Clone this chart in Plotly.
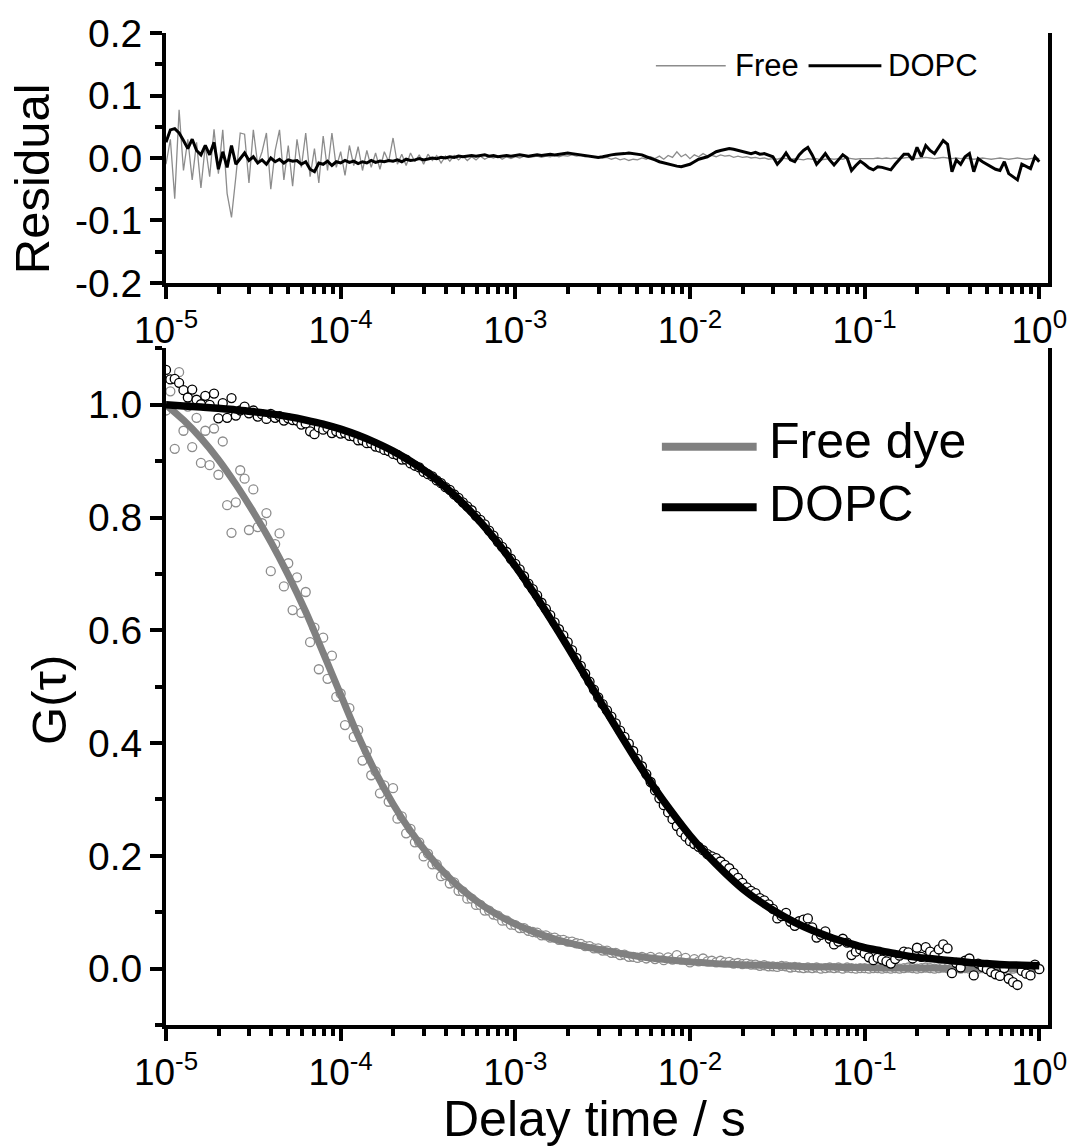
import plotly.graph_objects as go

# ---------------- data ----------------
# delay times are stored as log10(tau / s)
fit_log_tau = [-5.0, -4.9, -4.8, -4.7, -4.6, -4.5, -4.4, -4.3, -4.2, -4.1,
               -4.0, -3.9, -3.8, -3.7, -3.6, -3.5, -3.4, -3.3, -3.2, -3.1,
               -3.0, -2.9, -2.8, -2.7, -2.6, -2.5, -2.4, -2.3, -2.2, -2.1,
               -2.0, -1.9, -1.8, -1.7, -1.6, -1.5, -1.4, -1.3, -1.2, -1.1,
               -1.0, -0.9, -0.8, -0.7, -0.6, -0.5, -0.4, -0.3, -0.2, -0.1, 0.0]

fit_free_dye = [1.000, 0.973, 0.941, 0.903, 0.859, 0.810, 0.757, 0.698, 0.633, 0.560,
                0.486, 0.413, 0.348, 0.292, 0.244, 0.203, 0.168, 0.139, 0.115, 0.095,
                0.079, 0.066, 0.055, 0.046, 0.039, 0.033, 0.027, 0.022, 0.018, 0.015,
                0.012, 0.010, 0.008, 0.007, 0.006, 0.005, 0.004, 0.003, 0.003, 0.002,
                0.002, 0.001, 0.001, 0.001, 0.001, 0.000, 0.000, 0.000, 0.000, 0.000, 0.000]

fit_dopc = [1.000, 0.998, 0.996, 0.994, 0.991, 0.988, 0.984, 0.979, 0.973, 0.966,
            0.957, 0.946, 0.933, 0.918, 0.900, 0.879, 0.854, 0.825, 0.792, 0.755,
            0.714, 0.669, 0.621, 0.571, 0.519, 0.467, 0.416, 0.366, 0.319, 0.276,
            0.236, 0.201, 0.170, 0.142, 0.119, 0.099, 0.082, 0.068, 0.056, 0.046,
            0.037, 0.031, 0.025, 0.020, 0.017, 0.014, 0.011, 0.009, 0.007, 0.006, 0.005]

data_log_tau = [
    -5.000, -4.975, -4.950, -4.925, -4.900, -4.875, -4.850, -4.825, -4.800, -4.775,
    -4.750, -4.725, -4.700, -4.675, -4.650, -4.625, -4.600, -4.575, -4.550, -4.525,
    -4.500, -4.475, -4.450, -4.425, -4.400, -4.375, -4.350, -4.325, -4.300, -4.275,
    -4.250, -4.225, -4.200, -4.175, -4.150, -4.125, -4.100, -4.075, -4.050, -4.025,
    -4.000, -3.975, -3.950, -3.925, -3.900, -3.875, -3.850, -3.825, -3.800, -3.775,
    -3.750, -3.725, -3.700, -3.675, -3.650, -3.625, -3.600, -3.575, -3.550, -3.525,
    -3.500, -3.475, -3.450, -3.425, -3.400, -3.375, -3.350, -3.325, -3.300, -3.275,
    -3.250, -3.225, -3.200, -3.175, -3.150, -3.125, -3.100, -3.075, -3.050, -3.025,
    -3.000, -2.975, -2.950, -2.925, -2.900, -2.875, -2.850, -2.825, -2.800, -2.775,
    -2.750, -2.725, -2.700, -2.675, -2.650, -2.625, -2.600, -2.575, -2.550, -2.525,
    -2.500, -2.475, -2.450, -2.425, -2.400, -2.375, -2.350, -2.325, -2.300, -2.275,
    -2.250, -2.225, -2.200, -2.175, -2.150, -2.125, -2.100, -2.075, -2.050, -2.025,
    -2.000, -1.975, -1.950, -1.925, -1.900, -1.875, -1.850, -1.825, -1.800, -1.775,
    -1.750, -1.725, -1.700, -1.675, -1.650, -1.625, -1.600, -1.575, -1.550, -1.525,
    -1.500, -1.475, -1.450, -1.425, -1.400, -1.375, -1.350, -1.325, -1.300, -1.275,
    -1.250, -1.225, -1.200, -1.175, -1.150, -1.125, -1.100, -1.075, -1.050, -1.025,
    -1.000, -0.975, -0.950, -0.925, -0.900, -0.875, -0.850, -0.825, -0.800, -0.775,
    -0.750, -0.725, -0.700, -0.675, -0.650, -0.625, -0.600, -0.575, -0.550, -0.525,
    -0.500, -0.475, -0.450, -0.425, -0.400, -0.375, -0.350, -0.325, -0.300, -0.275,
    -0.250, -0.225, -0.200, -0.175, -0.150, -0.125, -0.100, -0.075, -0.050, -0.025,
    0.000]

data_free_dye = [
    0.990, 1.024, 0.922, 1.058, 0.954, 0.997, 0.925, 0.977, 0.897, 0.954,
    0.893, 0.958, 0.876, 0.935, 0.822, 0.773, 0.827, 0.884, 0.869, 0.778,
    0.850, 0.783, 0.790, 0.808, 0.705, 0.753, 0.772, 0.678, 0.719, 0.636,
    0.694, 0.631, 0.668, 0.579, 0.605, 0.531, 0.587, 0.514, 0.555, 0.482,
    0.488, 0.432, 0.462, 0.411, 0.423, 0.369, 0.386, 0.343, 0.350, 0.311,
    0.325, 0.296, 0.320, 0.266, 0.270, 0.240, 0.248, 0.224, 0.224, 0.199,
    0.204, 0.185, 0.185, 0.164, 0.166, 0.151, 0.153, 0.138, 0.137, 0.124,
    0.124, 0.113, 0.113, 0.103, 0.103, 0.096, 0.094, 0.085, 0.085, 0.078,
    0.077, 0.072, 0.072, 0.067, 0.065, 0.064, 0.059, 0.059, 0.055, 0.055,
    0.051, 0.051, 0.048, 0.048, 0.045, 0.044, 0.040, 0.040, 0.036, 0.036,
    0.032, 0.032, 0.028, 0.028, 0.024, 0.025, 0.021, 0.021, 0.019, 0.021,
    0.018, 0.021, 0.017, 0.020, 0.015, 0.020, 0.016, 0.024, 0.016, 0.019,
    0.011, 0.017, 0.013, 0.018, 0.013, 0.014, 0.011, 0.014, 0.011, 0.012,
    0.009, 0.010, 0.008, 0.009, 0.007, 0.007, 0.005, 0.006, 0.004, 0.004,
    0.003, 0.005, 0.004, 0.002, 0.003, 0.002, 0.001, 0.002, 0.001, 0.002,
    0.000, 0.001, 0.002, 0.001, 0.002, 0.000, 0.002, 0.001, 0.000, 0.001,
    0.001, 0.000, 0.001, 0.001, 0.000, 0.001, 0.000, 0.001, 0.000, 0.001,
    0.002, 0.001, 0.000, 0.001, 0.002, 0.001, 0.000, 0.001, 0.002, 0.001,
    0.000, 0.001, 0.000, 0.001, 0.000, -0.001, 0.000, 0.001, 0.000, -0.001,
    0.000, 0.001, 0.000, -0.001, 0.000, 0.001, 0.000, -0.001, 0.000, 0.001,
    0.000]

data_dopc = [
    1.062, 1.045, 1.046, 1.039, 1.026, 1.013, 1.027, 1.009, 1.001, 1.016,
    1.000, 1.020, 0.976, 1.003, 0.977, 1.012, 0.981, 0.990, 0.997, 0.985,
    0.990, 0.979, 0.983, 0.975, 0.984, 0.977, 0.980, 0.972, 0.976, 0.973,
    0.972, 0.965, 0.967, 0.953, 0.948, 0.960, 0.956, 0.959, 0.950, 0.953,
    0.949, 0.950, 0.945, 0.944, 0.937, 0.937, 0.932, 0.932, 0.926, 0.924,
    0.920, 0.918, 0.913, 0.911, 0.903, 0.903, 0.896, 0.892, 0.889, 0.881,
    0.877, 0.873, 0.866, 0.861, 0.854, 0.849, 0.841, 0.835, 0.827, 0.820,
    0.813, 0.803, 0.796, 0.788, 0.777, 0.768, 0.757, 0.748, 0.739, 0.727,
    0.718, 0.708, 0.696, 0.683, 0.673, 0.662, 0.649, 0.638, 0.627, 0.614,
    0.602, 0.591, 0.579, 0.565, 0.551, 0.537, 0.523, 0.509, 0.495, 0.481,
    0.469, 0.458, 0.447, 0.435, 0.422, 0.411, 0.399, 0.386, 0.372, 0.359,
    0.345, 0.331, 0.316, 0.302, 0.290, 0.277, 0.265, 0.253, 0.242, 0.234,
    0.226, 0.221, 0.216, 0.210, 0.203, 0.199, 0.196, 0.190, 0.184, 0.178,
    0.170, 0.161, 0.152, 0.144, 0.138, 0.134, 0.125, 0.121, 0.114, 0.106,
    0.089, 0.093, 0.099, 0.083, 0.076, 0.084, 0.087, 0.089, 0.073, 0.055,
    0.060, 0.066, 0.053, 0.043, 0.048, 0.053, 0.046, 0.024, 0.030, 0.034,
    0.027, 0.020, 0.015, 0.019, 0.016, 0.013, 0.009, 0.017, 0.023, 0.030,
    0.029, 0.018, 0.037, 0.021, 0.038, 0.030, 0.024, 0.034, 0.043, 0.036,
    -0.008, 0.010, 0.002, 0.014, 0.018, -0.012, 0.009, 0.003, -0.001, -0.006,
    -0.010, -0.013, 0.001, -0.018, -0.024, -0.029, -0.004, -0.009, -0.012, 0.007,
    -0.001]

resid_free = [
    -0.010, 0.030, -0.065, 0.077, -0.020, 0.030, -0.035, 0.025, -0.048, 0.020,
    -0.030, 0.046, -0.025, 0.045, -0.057, -0.095, -0.030, 0.040, 0.038, -0.040,
    0.045, -0.010, 0.010, 0.040, -0.050, 0.012, 0.045, -0.035, 0.020, -0.045,
    0.030, -0.015, 0.040, -0.030, 0.015, -0.040, 0.035, -0.020, 0.040, -0.015,
    0.010, -0.028, 0.020, -0.012, 0.018, -0.020, 0.012, -0.015, 0.008, -0.018,
    0.010, -0.006, 0.032, -0.010, 0.006, -0.012, 0.008, -0.006, 0.005, -0.010,
    0.006, -0.004, 0.004, -0.008, 0.003, -0.005, 0.004, -0.003, 0.003, -0.004,
    0.002, -0.003, 0.003, -0.002, 0.002, 0.000, 0.003, -0.002, 0.002, -0.001,
    0.002, 0.000, 0.003, 0.001, 0.002, 0.003, 0.001, 0.003, 0.002, 0.004,
    0.002, 0.004, 0.003, 0.005, 0.003, 0.004, 0.002, 0.003, 0.001, 0.002,
    0.000, 0.001, -0.002, 0.000, -0.003, -0.001, -0.004, -0.002, -0.003, 0.000,
    -0.002, 0.002, -0.001, 0.003, -0.002, 0.004, 0.001, 0.010, 0.002, 0.006,
    -0.001, 0.005, 0.002, 0.007, 0.003, 0.004, 0.002, 0.005, 0.003, 0.004,
    0.001, 0.003, 0.001, 0.002, 0.000, 0.001, -0.001, 0.000, -0.002, -0.001,
    -0.002, 0.000, -0.001, -0.002, -0.001, -0.002, -0.003, -0.001, -0.002, -0.001,
    -0.003, -0.002, -0.001, -0.002, -0.001, -0.002, 0.000, -0.001, -0.002, -0.001,
    -0.001, -0.002, -0.001, 0.000, -0.001, 0.000, -0.001, 0.000, -0.001, 0.000,
    0.001, 0.000, -0.001, 0.000, 0.001, 0.000, -0.001, 0.000, 0.001, 0.000,
    -0.001, 0.000, -0.001, 0.000, -0.001, -0.002, -0.001, 0.000, -0.001, -0.002,
    -0.001, 0.000, -0.001, -0.002, -0.001, 0.000, -0.001, -0.002, -0.001, 0.000,
    -0.001]

resid_dopc = [
    0.025, 0.045, 0.047, 0.040, 0.028, 0.015, 0.030, 0.012, 0.005, 0.020,
    0.005, 0.025, -0.018, 0.010, -0.015, 0.020, -0.010, 0.000, 0.008, -0.004,
    0.002, -0.008, -0.003, -0.010, 0.000, -0.006, -0.002, -0.008, -0.003, -0.005,
    -0.004, -0.010, -0.006, -0.018, -0.022, -0.008, -0.010, -0.005, -0.012, -0.006,
    -0.008, -0.004, -0.007, -0.005, -0.009, -0.006, -0.008, -0.004, -0.007, -0.005,
    -0.006, -0.004, -0.005, -0.003, -0.006, -0.002, -0.004, -0.003, -0.001, -0.003,
    -0.002, 0.000, -0.001, 0.001, 0.000, 0.002, 0.001, 0.003, 0.002, 0.003,
    0.004, 0.003, 0.004, 0.005, 0.003, 0.004, 0.002, 0.003, 0.004, 0.003,
    0.004, 0.005, 0.004, 0.003, 0.004, 0.005, 0.004, 0.005, 0.006, 0.005,
    0.006, 0.007, 0.008, 0.007, 0.006, 0.005, 0.004, 0.003, 0.002, 0.001,
    0.002, 0.004, 0.005, 0.006, 0.006, 0.007, 0.008, 0.007, 0.006, 0.005,
    0.002, 0.000, -0.003, -0.006, -0.008, -0.010, -0.011, -0.013, -0.014, -0.012,
    -0.010, -0.006, -0.002, 0.000, 0.002, 0.006, 0.010, 0.012, 0.014, 0.015,
    0.014, 0.012, 0.010, 0.008, 0.007, 0.009, 0.006, 0.007, 0.005, 0.002,
    -0.010, -0.002, 0.008, -0.003, -0.006, 0.005, 0.012, 0.017, 0.005, -0.010,
    -0.002, 0.007, -0.003, -0.011, -0.003, 0.005, 0.000, -0.020, -0.012, -0.005,
    -0.010, -0.016, -0.019, -0.014, -0.015, -0.017, -0.019, -0.010, -0.002, 0.006,
    0.006, -0.003, 0.017, 0.002, 0.020, 0.012, 0.007, 0.018, 0.028, 0.022,
    -0.022, -0.003, -0.010, 0.002, 0.007, -0.022, -0.001, -0.006, -0.010, -0.014,
    -0.018, -0.020, -0.006, -0.025, -0.030, -0.035, -0.010, -0.014, -0.017, 0.002,
    -0.006]

x_tick_exponents = [-5, -4, -3, -2, -1, 0]
resid_ticks = [-0.2, -0.1, 0.0, 0.1, 0.2]
g_ticks = [0.0, 0.2, 0.4, 0.6, 0.8, 1.0]

# ---------------- styling ----------------
FONT = "Liberation Sans, Arial, sans-serif"
GRAY = "#808080"
LIGHT_GRAY = "#8c8c8c"
BLACK = "#000000"

fit_tau = [10 ** v for v in fit_log_tau]
data_tau = [10 ** v for v in data_log_tau]

fig = go.Figure()

# residual panel
fig.add_trace(go.Scatter(x=data_tau, y=resid_free, mode="lines", xaxis="x", yaxis="y",
                         line=dict(color=LIGHT_GRAY, width=1.3), showlegend=False))
fig.add_trace(go.Scatter(x=data_tau, y=resid_dopc, mode="lines", xaxis="x", yaxis="y",
                         line=dict(color=BLACK, width=3), showlegend=False))

# correlation panel
fig.add_trace(go.Scatter(x=data_tau, y=data_free_dye, mode="markers", xaxis="x2", yaxis="y2",
                         marker=dict(symbol="circle", size=9, color="white",
                                     line=dict(color=LIGHT_GRAY, width=1.3)), showlegend=False))
fig.add_trace(go.Scatter(x=fit_tau, y=fit_free_dye, mode="lines", xaxis="x2", yaxis="y2",
                         line=dict(color=GRAY, width=7, shape="spline"), showlegend=False))
fig.add_trace(go.Scatter(x=data_tau, y=data_dopc, mode="markers", xaxis="x2", yaxis="y2",
                         marker=dict(symbol="circle", size=9, color="white",
                                     line=dict(color=BLACK, width=1.3)), showlegend=False))
fig.add_trace(go.Scatter(x=fit_tau, y=fit_dopc, mode="lines", xaxis="x2", yaxis="y2",
                         line=dict(color=BLACK, width=7.5, shape="spline"), showlegend=False))

x_tickvals = [10.0 ** e for e in x_tick_exponents]
x_ticktext = ["10<sup>%d</sup>" % e for e in x_tick_exponents]
x_minor = [m * 10.0 ** e for e in x_tick_exponents[:-1] for m in range(2, 10)]


def xaxis_style(anchor):
    return dict(type="log", range=[-5, 0.05], anchor=anchor, domain=[0, 1],
                tickmode="array", tickvals=x_tickvals, ticktext=x_ticktext,
                ticks="outside", ticklen=12, tickwidth=4, tickcolor=BLACK,
                showline=True, linewidth=4, linecolor=BLACK, mirror=False,
                showgrid=False, zeroline=False,
                tickfont=dict(family=FONT, size=37, color=BLACK),
                minor=dict(tickmode="array", tickvals=x_minor, ticks="outside",
                           ticklen=7, tickwidth=4, tickcolor=BLACK, showgrid=False))


def yaxis_style(anchor, domain, rng, vals, minor_vals):
    return dict(anchor=anchor, domain=domain, range=rng,
                tickmode="array", tickvals=vals, ticktext=["%.1f" % v for v in vals],
                ticks="outside", ticklen=12, tickwidth=4, tickcolor=BLACK,
                showline=True, linewidth=4, linecolor=BLACK, mirror=True,
                showgrid=False, zeroline=False,
                tickfont=dict(family=FONT, size=39, color=BLACK),
                minor=dict(tickmode="array", tickvals=minor_vals, ticks="outside",
                           ticklen=7, tickwidth=4, tickcolor=BLACK, showgrid=False))


fig.update_layout(
    width=1079, height=1147,
    margin=dict(l=166, r=29, t=25, b=122),
    paper_bgcolor="white", plot_bgcolor="white",
    font=dict(family=FONT, color=BLACK),
    xaxis=xaxis_style("y"),
    yaxis=yaxis_style("x", [0.748, 1.0], [-0.2, 0.2], resid_ticks, [-0.15, -0.05, 0.05, 0.15]),
    xaxis2=xaxis_style("y2"),
    yaxis2=yaxis_style("x2", [0.0, 0.682], [-0.1, 1.1], g_ticks,
                       [-0.1, 0.1, 0.3, 0.5, 0.7, 0.9, 1.1]),
)


def px_x(px):
    return (px - 166) / 884.0


def px_y(py):
    return (1025 - py) / 1000.0


annotations = [
    dict(text="Residual", x=px_x(32), y=px_y(172), textangle=-90, font=dict(size=49)),
    dict(text="G(\u03c4)", x=px_x(48), y=px_y(697), textangle=-90, font=dict(size=49)),
    dict(text="Delay time / s", x=px_x(595), y=px_y(1120), font=dict(size=50)),
    dict(text="Free", x=px_x(734), y=px_y(58), xanchor="left", font=dict(size=31)),
    dict(text="DOPC", x=px_x(888), y=px_y(58), xanchor="left", font=dict(size=31)),
    dict(text="Free dye", x=px_x(768), y=px_y(436), xanchor="left", font=dict(size=50)),
    dict(text="DOPC", x=px_x(768), y=px_y(500), xanchor="left", font=dict(size=50)),
]
for a in annotations:
    a.setdefault("xanchor", "center")
    a.update(xref="paper", yref="paper", yanchor="middle", showarrow=False)
    a["font"].update(family=FONT, color=BLACK)
fig.update_layout(annotations=annotations)

shapes = [
    dict(x0=px_x(657), x1=px_x(727), y0=px_y(58), y1=px_y(58), line=dict(color=LIGHT_GRAY, width=1.5)),
    dict(x0=px_x(810), x1=px_x(883), y0=px_y(58), y1=px_y(58), line=dict(color=BLACK, width=3)),
    dict(x0=px_x(663), x1=px_x(758), y0=px_y(442), y1=px_y(442), line=dict(color=GRAY, width=8)),
    dict(x0=px_x(663), x1=px_x(758), y0=px_y(503), y1=px_y(503), line=dict(color=BLACK, width=8)),
]
for s in shapes:
    s.update(type="line", xref="paper", yref="paper")
fig.update_layout(shapes=shapes)

fig.write_html("out.html")
